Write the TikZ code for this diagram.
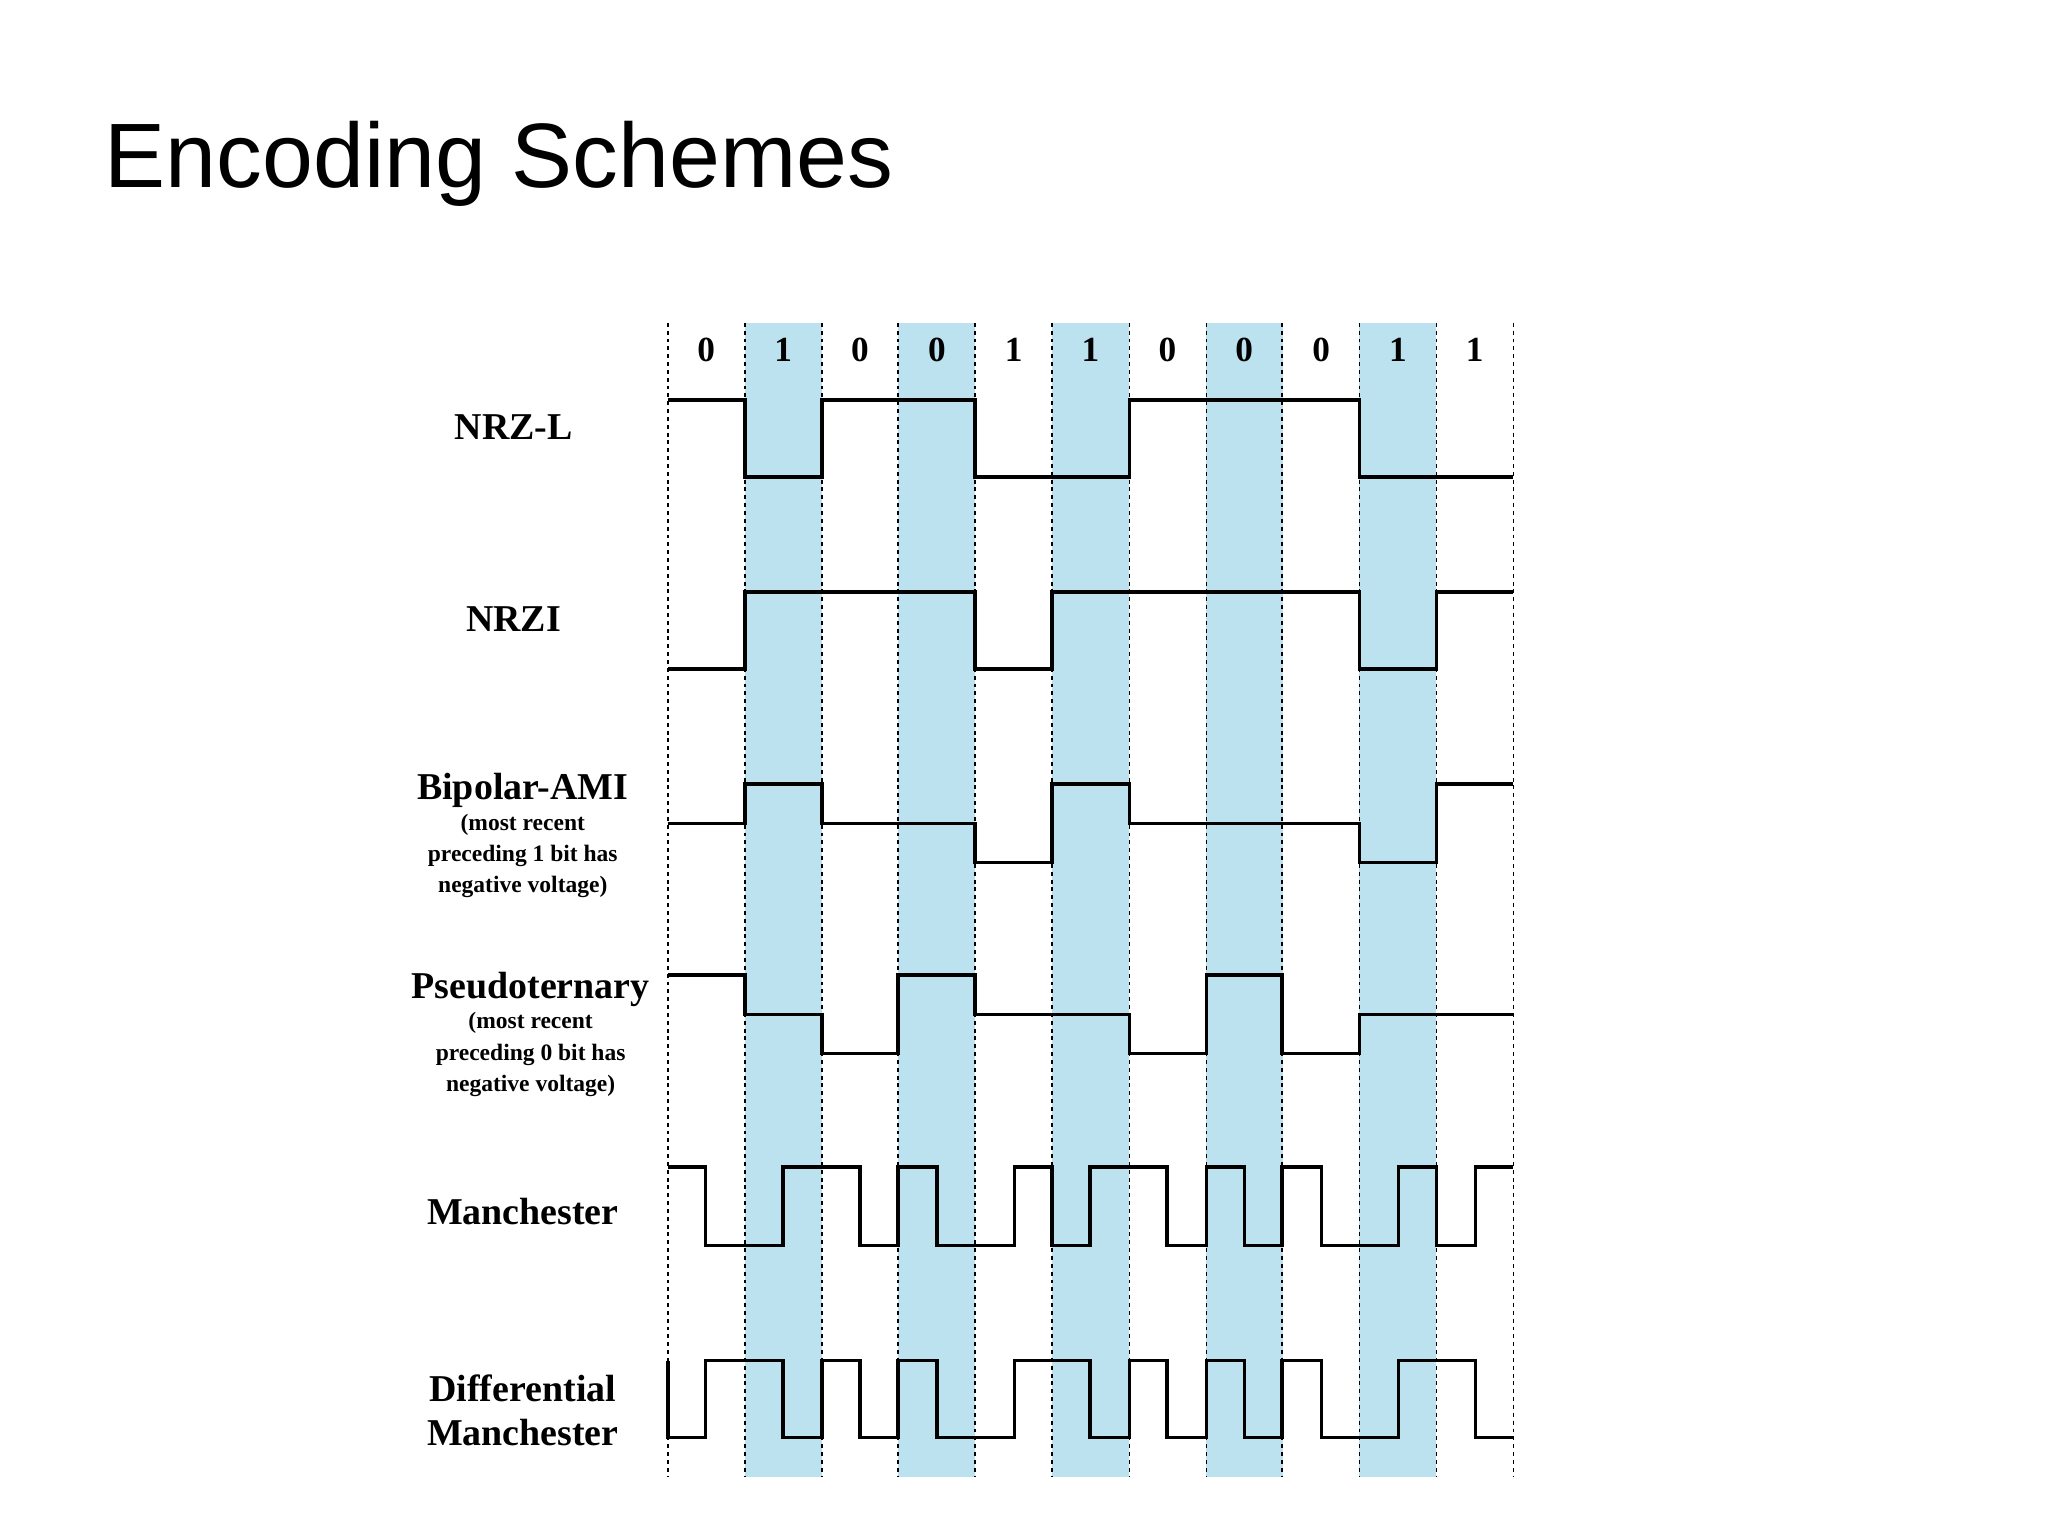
\documentclass[tikz,border=0pt]{standalone}
\usepackage{fontspec}
\setmainfont{Liberation Serif}
\newfontfamily\titlefont{Liberation Sans}
\definecolor{colshade}{RGB}{187,226,238}
\begin{document}
\begin{tikzpicture}[x=1pt,y=-1pt,
  sig/.style={line width=2.6pt,line join=miter},
  grid/.style={dash pattern=on 3pt off 3pt,line width=1pt},
  lab/.style={font=\fontsize{29}{32}\selectfont\bfseries,inner sep=0},
  sub/.style={font=\fontsize{18}{24}\selectfont\bfseries,align=center,inner sep=0},
  bit/.style={font=\fontsize{27}{30}\selectfont\bfseries,inner sep=0}]
\useasboundingbox[fill=white] (0,0) rectangle (1567,1175);
\node[font=\titlefont\fontsize{70}{80}\selectfont,anchor=west,inner sep=0] (title) at (80,125) {Encoding Schemes};
\foreach \a in {570,687,805,923,1040}{\fill[colshade] (\a,247) rectangle ++(58.8,883);}
\foreach \a in {511,570,629,687,746,805,864,923,981,1040,1099,1158}{\draw[grid] (\a,247) -- (\a,1130);}
\foreach \b [count=\i from 0] in {0,1,0,0,1,1,0,0,0,1,1}{\node[bit] (b\i) at (540.4+58.8*\i,268) {\b};}
\node[lab] (l1) at (393,327) {NRZ-L};
\node[lab] (l2) at (393,474) {NRZI};
\node[lab] (l3) at (400,605) {Bipolar-AMI};
\node[sub] (s3) at (400,655) {(most recent\\preceding 1 bit has\\negative voltage)};
\node[lab] (l4) at (406,757) {Pseudoternary};
\node[sub] (s4) at (406,807) {(most recent\\preceding 0 bit has\\negative voltage)};
\node[lab] (l5) at (400,927) {Manchester};
\node[lab,align=center,font=\fontsize{29}{34}\selectfont\bfseries] (l6) at (400,1079) {Differential\\Manchester};
% NRZ-L
\draw[sig] (511,306) -| (570,365) -| (629,306) -| (746,365) -| (864,306) -| (1040,365) -- (1158,365);
% NRZI
\draw[sig] (511,512) -| (570,453) -| (746,512) -| (805,453) -| (1040,512) -| (1099,453) -- (1158,453);
% AMI
\draw[sig] (511,630) -| (570,600) -| (629,630) -| (746,660) -| (805,600) -| (864,630) -| (1040,660) -| (1099,600) -- (1158,600);
% Pseudoternary
\draw[sig] (511,746) -| (570,776) -| (629,806) -| (687,746) -| (746,776) -| (864,806) -| (923,746) -| (981,806) -| (1040,776) -- (1158,776);
% Manchester
\draw[sig] (511,893) -| (540,953) -| (599,893) -| (658,953) -| (687,893) -| (717,953) -| (776,893) -| (805,953) -| (834,893) -| (893,953) -| (923,893) -| (952,953) -| (981,893) -| (1011,953) -| (1070,893) -| (1099,953) -| (1129,893) -- (1158,893);
% Differential Manchester
\draw[sig] (511,1041) -- (511,1100) -| (540,1041) -| (599,1100) -| (629,1041) -| (658,1100) -| (687,1041) -| (717,1100) -| (776,1041) -| (834,1100) -| (864,1041) -| (893,1100) -| (923,1041) -| (952,1100) -| (981,1041) -| (1011,1100) -| (1070,1041) -| (1129,1100) -- (1158,1100);
\end{tikzpicture}
\end{document}
